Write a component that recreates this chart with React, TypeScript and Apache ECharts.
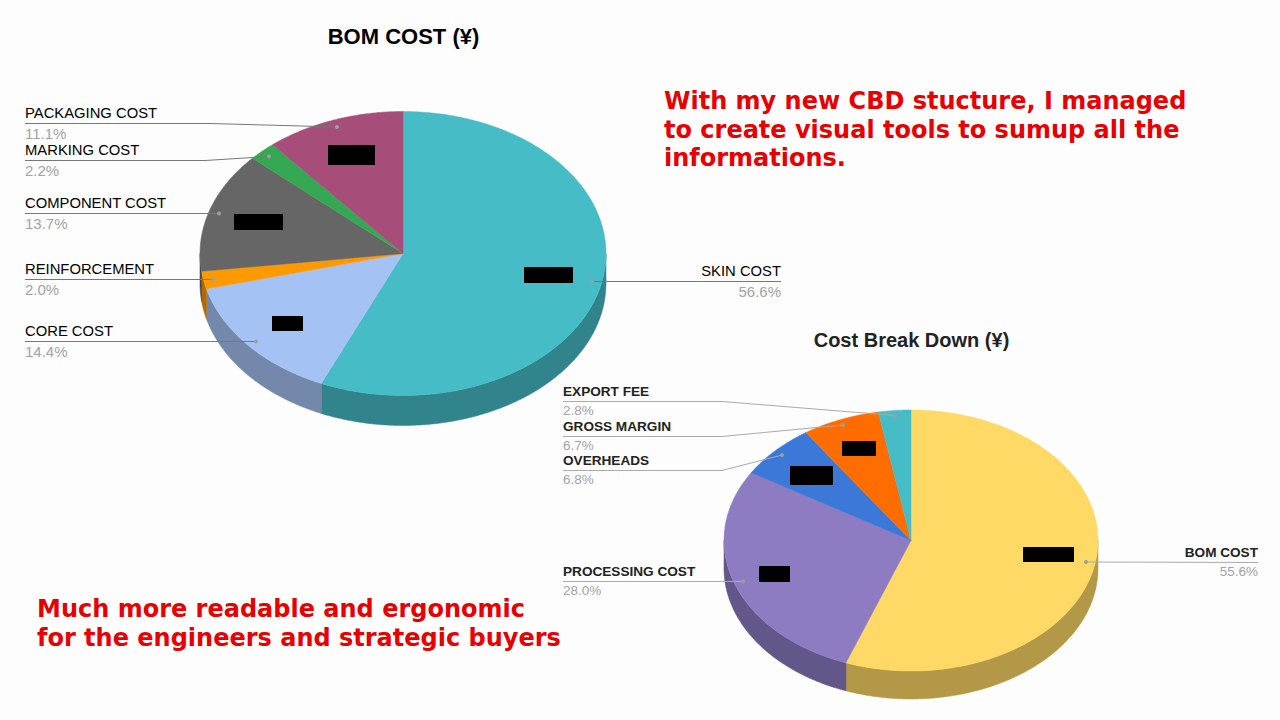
import React, { useEffect, useRef } from "react";
import * as echarts from "echarts";

// ---- data ----
const bomCategories = ["SKIN COST", "CORE COST", "REINFORCEMENT", "COMPONENT COST", "MARKING COST", "PACKAGING COST"];
const bomValues = [56.6, 14.4, 2.0, 13.7, 2.2, 11.1];
const cbdCategories = ["BOM COST", "PROCESSING COST", "OVERHEADS", "GROSS MARGIN", "EXPORT FEE"];
const cbdValues = [55.6, 28.0, 6.8, 6.7, 2.8];

// ---- styles ----
const bomColors = ["#46BDC6", "#A4C2F4", "#FF9900", "#666666", "#34A853", "#A64D79"];
const cbdColors = ["#FFD966", "#8E7CC3", "#3C78D8", "#FF6D01", "#46BDC6"];

// ---- layout ----
const bomGeom = { cx: 403, cy: 253.5, rx: 203, ry: 142, depth: 30 };
const cbdGeom = { cx: 911, cy: 540.5, rx: 187, ry: 130.5, depth: 28 };

// leader: [text x, line y, elbow x, dot x, dot y, align]
const bomLeaders: [number, number, number, number, number, string][] = [
  [781, 281.5, 781, 592, 281.5, "right"],
  [25, 341.5, 25, 256, 341.5, "left"],
  [25, 279.5, 25, 213, 279.5, "left"],
  [25, 213.5, 25, 219, 213.5, "left"],
  [25, 160.5, 205, 269, 156.5, "left"],
  [25, 123.5, 210, 337, 127, "left"],
];
const cbdLeaders: [number, number, number, number, number, string][] = [
  [1258, 562.5, 1258, 1086, 562, "right"],
  [563, 581.5, 563, 743, 581.5, "left"],
  [563, 470.5, 722, 782, 455, "left"],
  [563, 436.5, 722, 843, 425, "left"],
  [563, 401.5, 722, 895, 415.5, "left"],
];

const redactions = [
  [328, 145, 47, 20],
  [234, 214, 49, 16],
  [272, 316, 31, 15],
  [524, 267, 49, 16],
  [842, 441, 34, 15],
  [790, 466, 43, 19],
  [759, 566, 31, 16],
  [1023, 547, 51, 15],
];

const noteTop = ["With my new CBD stucture, I managed", "to create visual tools to sumup all the", "informations."];
const noteBottom = ["Much more readable and ergonomic", "for the engineers and strategic buyers"];

function darken(hex: string, f: number) {
  const n = parseInt(hex.slice(1), 16);
  const c = [(n >> 16) & 255, (n >> 8) & 255, n & 255].map((v) => Math.round(v * f));
  return `rgb(${c[0]},${c[1]},${c[2]})`;
}

function pieSeries(values: number[], colors: string[], g: typeof bomGeom) {
  const total = values.reduce((a, b) => a + b, 0);
  const pt = (deg: number, dy = 0): number[] => {
    const r = (deg * Math.PI) / 180;
    return [g.cx + g.rx * Math.sin(r), g.cy - g.ry * Math.cos(r) + dy];
  };
  const arc = (a0: number, a1: number, dy = 0) => {
    const n = Math.max(2, Math.ceil((a1 - a0) * 2));
    const out: number[][] = [];
    for (let i = 0; i <= n; i++) out.push(pt(a0 + ((a1 - a0) * i) / n, dy));
    return out;
  };
  return {
    type: "custom",
    coordinateSystem: "none",
    silent: true,
    clip: false,
    data: values.map((v) => [v]),
    renderItem: (params: any, api: any) => {
      const idx = params.dataIndex;
      const before = values.slice(0, idx).reduce((a, b) => a + b, 0);
      const a0 = (before / total) * 360;
      const a1 = a0 + (api.value(0) / total) * 360;
      const color = colors[idx];
      const children: any[] = [];
      const w0 = Math.max(a0, 90);
      const w1 = Math.min(a1, 270);
      if (w1 > w0) {
        const side = darken(color, 0.7);
        children.push({
          type: "polygon",
          z2: 1,
          shape: { points: [...arc(w0, w1), ...arc(w0, w1, g.depth).reverse()] },
          style: { fill: side, stroke: side, lineWidth: 0.5 },
        });
      }
      children.push({
        type: "polygon",
        z2: 2,
        shape: { points: [[g.cx, g.cy], ...arc(a0, a1)] },
        style: { fill: color, stroke: color, lineWidth: 0.5 },
      });
      return { type: "group", children };
    },
  };
}

function leaderGraphics(
  names: string[],
  values: number[],
  leaders: typeof bomLeaders,
  o: { nameSize: number; pctSize: number; nameColor: string; line: string; up: number; down: number; weight: string | number }
) {
  const els: any[] = [];
  names.forEach((name, i) => {
    const [tx, ly, ex, dx, dy, align] = leaders[i];
    const points = ex === tx ? [[tx, ly], [dx, dy]] : [[tx, ly], [ex, ly], [dx, dy]];
    els.push({ type: "polyline", z: 5, silent: true, shape: { points }, style: { fill: "none", stroke: o.line, lineWidth: 1 } });
    els.push({ type: "circle", z: 6, silent: true, shape: { cx: dx, cy: dy, r: 2 }, style: { fill: "#9E9E9E" } });
    els.push({
      type: "text", z: 7, silent: true, x: tx, y: ly - o.up,
      style: { text: name, fill: o.nameColor, font: `${o.weight} ${o.nameSize}px "Liberation Sans", Arial, sans-serif`, textAlign: align, textVerticalAlign: "middle" },
    });
    els.push({
      type: "text", z: 7, silent: true, x: tx, y: ly + o.down,
      style: { text: `${values[i].toFixed(1)}%`, fill: "#A3A3A3", font: `normal ${o.pctSize}px "Liberation Sans", Arial, sans-serif`, textAlign: align, textVerticalAlign: "middle" },
    });
  });
  return els;
}

function noteGraphics(lines: string[], x: number, y0: number, step: number) {
  return lines.map((t, i) => ({
    type: "text", z: 8, silent: true, x, y: y0 + i * step,
    style: { text: t, fill: "#E60000", font: 'bold 24px "DejaVu Sans", sans-serif', textAlign: "left", textVerticalAlign: "middle" },
  }));
}

export default function App() {
  const ref = useRef<HTMLDivElement>(null);
  useEffect(() => {
    document.body.style.margin = "0";
    const chart = echarts.init(ref.current!, undefined, { renderer: "svg" });
    chart.setOption({
      animation: false,
      backgroundColor: "#FDFDFD",
      title: [
        {
          text: "BOM COST (¥)", left: 398.5, top: 20, textAlign: "center",
          textStyle: { fontFamily: '"Liberation Sans", Arial, sans-serif', fontSize: 22, fontWeight: "bold", color: "#000" },
        },
        {
          text: "Cost Break Down (¥)", left: 906.5, top: 325, textAlign: "center",
          textStyle: { fontFamily: '"Liberation Sans", Arial, sans-serif', fontSize: 20, fontWeight: "bold", color: "#222" },
        },
      ],
      series: [pieSeries(bomValues, bomColors, bomGeom), pieSeries(cbdValues, cbdColors, cbdGeom)],
      graphic: [
        ...leaderGraphics(bomCategories, bomValues, bomLeaders, { nameSize: 14.8, pctSize: 15, nameColor: "#000", line: "#777", up: 11, down: 10, weight: "normal" }),
        ...leaderGraphics(cbdCategories, cbdValues, cbdLeaders, { nameSize: 13.6, pctSize: 13.5, nameColor: "#222", line: "#AAA", up: 10, down: 9, weight: "bold" }),
        ...redactions.map(([x, y, width, height]) => ({ type: "rect", z: 9, silent: true, shape: { x, y, width, height }, style: { fill: "#000" } })),
        ...noteGraphics(noteTop, 664, 101, 28.5),
        ...noteGraphics(noteBottom, 37, 609, 29),
      ],
    });
    return () => chart.dispose();
  }, []);
  return <div ref={ref} style={{ position: "fixed", left: 0, top: 0, width: 1280, height: 720 }} />;
}
